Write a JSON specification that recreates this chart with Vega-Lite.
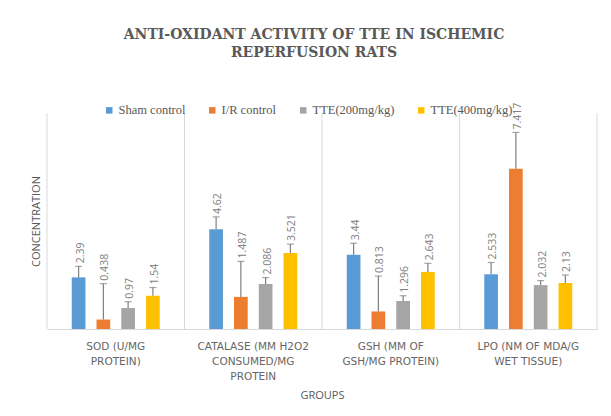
{
  "$schema": "https://vega.github.io/schema/vega-lite/v6.json",
  "width": 550,
  "height": 216,
  "autosize": {"type": "none"},
  "padding": {"left": 47, "top": 113, "right": 14, "bottom": 87},
  "title": {
    "text": ["ANTI-OXIDANT ACTIVITY OF TTE IN ISCHEMIC", "REPERFUSION RATS"],
    "font": "DejaVu Serif",
    "fontSize": 14,
    "fontWeight": "bold",
    "color": "#595959",
    "lineHeight": 18,
    "anchor": "middle",
    "frame": "group",
    "offset": 43,
    "dx": -8
  },
  "data": {
    "values": [
      {"group": "SOD (U/MG PROTEIN)", "series": "Sham control", "value": 2.39, "upper": 2.9},
      {"group": "SOD (U/MG PROTEIN)", "series": "I/R control", "value": 0.438, "upper": 2.1},
      {"group": "SOD (U/MG PROTEIN)", "series": "TTE(200mg/kg)", "value": 0.97, "upper": 1.26},
      {"group": "SOD (U/MG PROTEIN)", "series": "TTE(400mg/kg)", "value": 1.54, "upper": 1.92},
      {"group": "CATALASE (MM H2O2 CONSUMED/MG PROTEIN", "series": "Sham control", "value": 4.62, "upper": 5.19},
      {"group": "CATALASE (MM H2O2 CONSUMED/MG PROTEIN", "series": "I/R control", "value": 1.487, "upper": 3.13},
      {"group": "CATALASE (MM H2O2 CONSUMED/MG PROTEIN", "series": "TTE(200mg/kg)", "value": 2.086, "upper": 2.38},
      {"group": "CATALASE (MM H2O2 CONSUMED/MG PROTEIN", "series": "TTE(400mg/kg)", "value": 3.521, "upper": 3.93},
      {"group": "GSH (MM OF GSH/MG PROTEIN)", "series": "Sham control", "value": 3.44, "upper": 3.97},
      {"group": "GSH (MM OF GSH/MG PROTEIN)", "series": "I/R control", "value": 0.813, "upper": 2.45},
      {"group": "GSH (MM OF GSH/MG PROTEIN)", "series": "TTE(200mg/kg)", "value": 1.296, "upper": 1.54},
      {"group": "GSH (MM OF GSH/MG PROTEIN)", "series": "TTE(400mg/kg)", "value": 2.643, "upper": 3.04},
      {"group": "LPO (NM OF MDA/G WET TISSUE)", "series": "Sham control", "value": 2.533, "upper": 3.08},
      {"group": "LPO (NM OF MDA/G WET TISSUE)", "series": "I/R control", "value": 7.417, "upper": 9.1},
      {"group": "LPO (NM OF MDA/G WET TISSUE)", "series": "TTE(200mg/kg)", "value": 2.032, "upper": 2.24},
      {"group": "LPO (NM OF MDA/G WET TISSUE)", "series": "TTE(400mg/kg)", "value": 2.13, "upper": 2.5}
    ]
  },
  "encoding": {
    "x": {
      "field": "group",
      "type": "nominal",
      "sort": ["SOD (U/MG PROTEIN)", "CATALASE (MM H2O2 CONSUMED/MG PROTEIN", "GSH (MM OF GSH/MG PROTEIN)", "LPO (NM OF MDA/G WET TISSUE)"],
      "scale": {"paddingInner": 0, "paddingOuter": 0},
      "axis": {
        "title": "GROUPS",
        "labelExpr": "datum.value == 'SOD (U/MG PROTEIN)' ? ['SOD (U/MG', 'PROTEIN)'] : datum.value == 'CATALASE (MM H2O2 CONSUMED/MG PROTEIN' ? ['CATALASE (MM H2O2', 'CONSUMED/MG', 'PROTEIN'] : datum.value == 'GSH (MM OF GSH/MG PROTEIN)' ? ['GSH (MM OF', 'GSH/MG PROTEIN)'] : ['LPO (NM OF MDA/G', 'WET TISSUE)']",
        "labelAngle": 0,
        "labelFont": "DejaVu Sans",
        "labelFontSize": 10.5,
        "labelColor": "#666666",
        "labelLineHeight": 15,
        "labelPadding": 12,
        "ticks": false,
        "grid": false,
        "domainColor": "#d9d9d9",
        "titleFont": "Open Sans",
        "titleFontSize": 11,
        "titleFontWeight": "normal",
        "titleColor": "#595959",
        "titlePadding": 8
      }
    }
  },
  "layer": [
    {
      "transform": [{"filter": "datum.series == 'Sham control'"}],
      "mark": {"type": "rule", "color": "#d9d9d9", "strokeWidth": 1},
      "encoding": {
        "x": {"field": "group", "type": "nominal", "bandPosition": 0, "sort": ["SOD (U/MG PROTEIN)", "CATALASE (MM H2O2 CONSUMED/MG PROTEIN", "GSH (MM OF GSH/MG PROTEIN)", "LPO (NM OF MDA/G WET TISSUE)"]}
      }
    },
    {
      "transform": [{"filter": "datum.series == 'Sham control' && datum.group == 'LPO (NM OF MDA/G WET TISSUE)'"}],
      "mark": {"type": "rule", "color": "#d9d9d9", "strokeWidth": 1},
      "encoding": {
        "x": {"field": "group", "type": "nominal", "bandPosition": 1, "sort": ["SOD (U/MG PROTEIN)", "CATALASE (MM H2O2 CONSUMED/MG PROTEIN", "GSH (MM OF GSH/MG PROTEIN)", "LPO (NM OF MDA/G WET TISSUE)"]}
      }
    },
    {
      "mark": {"type": "bar"},
      "encoding": {
        "xOffset": {
          "field": "series",
          "type": "nominal",
          "sort": ["Sham control", "I/R control", "TTE(200mg/kg)", "TTE(400mg/kg)"],
          "scale": {"paddingInner": 0.447, "paddingOuter": 1.16}
        },
        "y": {
          "field": "value",
          "type": "quantitative",
          "scale": {"domain": [0, 10], "nice": false},
          "axis": {
            "title": "CONCENTRATION",
            "labels": false,
            "ticks": false,
            "domain": false,
            "grid": false,
            "titleFont": "Open Sans",
            "titleFontSize": 11,
            "titleFontWeight": "normal",
            "titleColor": "#595959",
            "titlePadding": 6
          }
        },
        "color": {
          "field": "series",
          "type": "nominal",
          "scale": {
            "domain": ["Sham control", "I/R control", "TTE(200mg/kg)", "TTE(400mg/kg)"],
            "range": ["#5B9BD5", "#ED7D31", "#A5A5A5", "#FFC000"]
          },
          "legend": {
            "title": null,
            "orient": "none",
            "direction": "horizontal",
            "legendX": 56,
            "legendY": -9,
            "symbolType": "square",
            "symbolSize": 42,
            "symbolStrokeWidth": 0,
            "labelFont": "Liberation Serif",
            "labelFontSize": 12.5,
            "labelColor": "#595959",
            "labelOffset": 3,
            "columnPadding": 20
          }
        }
      }
    },
    {
      "mark": {"type": "rule", "color": "#7f7f7f", "strokeWidth": 1.2},
      "encoding": {
        "xOffset": {"field": "series", "type": "nominal", "sort": ["Sham control", "I/R control", "TTE(200mg/kg)", "TTE(400mg/kg)"]},
        "y": {"field": "value", "type": "quantitative"},
        "y2": {"field": "upper"}
      }
    },
    {
      "mark": {"type": "tick", "color": "#7f7f7f", "thickness": 1.2, "size": 7},
      "encoding": {
        "xOffset": {"field": "series", "type": "nominal", "sort": ["Sham control", "I/R control", "TTE(200mg/kg)", "TTE(400mg/kg)"]},
        "y": {"field": "upper", "type": "quantitative"}
      }
    },
    {
      "mark": {"type": "text", "angle": 270, "align": "left", "baseline": "middle", "dx": 3, "dy": 2, "font": "Open Sans", "fontSize": 10.5, "color": "#808080"},
      "encoding": {
        "xOffset": {"field": "series", "type": "nominal", "sort": ["Sham control", "I/R control", "TTE(200mg/kg)", "TTE(400mg/kg)"]},
        "y": {"field": "upper", "type": "quantitative"},
        "text": {"field": "value", "type": "quantitative"}
      }
    }
  ],
  "config": {
    "view": {"stroke": null},
    "background": "white"
  }
}
